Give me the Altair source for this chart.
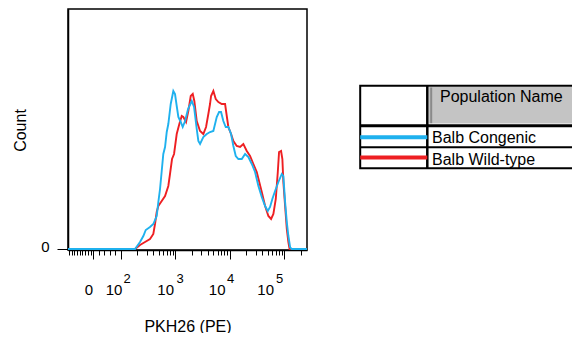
import altair as alt
import numpy as np
import pandas as pd

# ---------------- data ----------------
# x: log10 of PKH26 (PE) intensity, y: events (arbitrary count units)
blue_log_pe = [2.264, 2.356, 2.417, 2.461, 2.539, 2.600, 2.662, 2.692, 2.723, 2.754,
               2.783, 2.815, 2.846, 2.875, 2.919, 2.967, 2.998, 3.029, 3.059, 3.103,
               3.139, 3.182, 3.237, 3.305, 3.347, 3.396, 3.426, 3.457, 3.517, 3.580,
               3.640, 3.701, 3.763, 3.806, 3.842, 3.884, 3.928, 3.976, 4.026, 4.068,
               4.112, 4.160, 4.222, 4.283, 4.343, 4.406, 4.466, 4.527, 4.589, 4.650,
               4.699, 4.741, 4.783, 4.833, 4.894, 4.956, 4.985, 5.017, 5.048, 5.077,
               5.108, 5.136]
blue_count = [0, 7, 13, 19, 22, 25, 33, 47, 60, 78,
              95, 102, 117, 125, 145, 158, 155, 143, 132, 127,
              122, 128, 140, 148, 142, 120, 108, 105, 112, 115,
              117, 118, 132, 137, 137, 128, 122, 122, 115, 103,
              93, 90, 90, 95, 92, 85, 77, 63, 52, 43,
              38, 42, 50, 58, 67, 75, 73, 47, 27, 13,
              2, 0]

red_log_pe = [2.264, 2.356, 2.448, 2.539, 2.600, 2.631, 2.662, 2.692, 2.754, 2.815,
              2.875, 2.906, 2.943, 2.980, 3.029, 3.077, 3.121, 3.150, 3.200, 3.242,
              3.286, 3.323, 3.352, 3.396, 3.457, 3.517, 3.567, 3.609, 3.640, 3.659,
              3.701, 3.745, 3.793, 3.855, 3.916, 3.947, 3.976, 4.026, 4.068, 4.130,
              4.191, 4.251, 4.314, 4.374, 4.435, 4.497, 4.589, 4.650, 4.710, 4.760,
              4.802, 4.846, 4.883, 4.906, 4.943, 4.967, 4.985, 5.017, 5.048, 5.077,
              5.099]
red_count = [0, 4, 7, 10, 15, 25, 37, 43, 48, 53,
             63, 75, 90, 95, 115, 125, 133, 132, 127, 138,
             153, 155, 148, 128, 118, 115, 122, 135, 145, 153,
             158, 150, 147, 145, 145, 133, 122, 115, 108, 103,
             102, 105, 98, 93, 85, 77, 57, 43, 33, 30,
             35, 50, 77, 97, 98, 90, 67, 43, 20, 7,
             0]

series_names = ["Balb Congenic", "Balb Wild-type"]
series_colors = ["#1fb1ee", "#ee1f22"]

PE_MIN, PE_MAX = -93, 262144
major_ticks = [0, 100, 1000, 10000, 100000]
minor_ticks = (list(range(-90, 0, 10)) + [20, 40, 60, 80]
               + [k * 10 ** e for e in (2, 3, 4) for k in range(2, 10)] + [200000])
label_ticks = [0, 100, 1000, 10000, 100000]
sup_ticks = [100, 1000, 10000, 100000]

FONT = "Liberation Sans"


def display(v):
    """Biexponential-like display: log10 above 100, linear below."""
    v = float(v)
    return float(np.log10(v)) if v >= 100 else 2.0 + (v - 100.0) / 200.0


x_lo, x_hi = display(PE_MIN), display(PE_MAX)


def series_df(logs, counts):
    return pd.DataFrame({"pe": [x_lo] + list(logs) + [x_hi],
                         "events": [0] + list(counts) + [0]})


blue_df = series_df(blue_log_pe, blue_count)
red_df = series_df(red_log_pe, red_count)

W, H = 239, 241
xscale = alt.Scale(domain=[x_lo, x_hi], nice=False, zero=False)
yscale = alt.Scale(domain=[-1, 240], nice=False, zero=False)

common_x = dict(orient="bottom", grid=False, labelFlush=False, labelOverlap=False)

axis_major = alt.Axis(values=[display(v) for v in major_ticks], tickSize=9, tickColor="black",
                      tickWidth=1, domain=True, domainColor="black", domainWidth=1.5,
                      labels=False, title="PKH26 (PE)", titleX=W / 2, titleY=81,
                      titleBaseline="alphabetic", titleAlign="center", titleFontSize=16,
                      titleFontWeight="normal", titleColor="black", titleFont=FONT, **common_x)
axis_minor = alt.Axis(values=[display(v) for v in minor_ticks], tickSize=5, tickColor="black",
                      tickWidth=1, domain=False, labels=False, title=None, **common_x)
axis_tens = alt.Axis(values=[display(v) for v in label_ticks], ticks=False, domain=False,
                     labelExpr="datum.value < 1.9 ? '0' : '10'",
                     labelOffset={"expr": "datum.value < 1.9 ? -5 : datum.value < 2.5 ? -7 : "
                                          "datum.value < 3.5 ? -10 : datum.value < 4.5 ? -13 : -19"},
                     labelPadding=44.5, labelBaseline="alphabetic", labelFontSize=15,
                     labelFont=FONT, labelColor="black", title=None, **common_x)
axis_sup = alt.Axis(values=[display(v) for v in sup_ticks], ticks=False, domain=False,
                    labelExpr="'' + round(datum.value)",
                    labelOffset={"expr": "datum.value < 2.5 ? 6 : datum.value < 3.5 ? 4.5 : "
                                         "datum.value < 4.5 ? 0.5 : -5"},
                    labelPadding=32.5, labelBaseline="alphabetic", labelFontSize=13,
                    labelFont=FONT, labelColor="black", title=None, **common_x)

axis_y = alt.Axis(orient="left", values=[0], tickSize=11, tickColor="black", tickWidth=1,
                  domainColor="black", domainWidth=1.5, grid=False,
                  labelFontSize=15, labelFont=FONT, labelColor="black", labelPadding=8,
                  labelOffset=-3, labelBaseline="middle",
                  title="Count", titleX=-43, titleY=121, titleAngle=270,
                  titleBaseline="alphabetic", titleAlign="center", titleFontSize=16,
                  titleFontWeight="normal", titleColor="black", titleFont=FONT)

red_layer = alt.Chart(red_df).mark_line(color=series_colors[1], strokeWidth=1.9).encode(
    x=alt.X("pe:Q", scale=xscale, axis=axis_major),
    y=alt.Y("events:Q", scale=yscale, axis=axis_y),
)
blue_layer = alt.Chart(blue_df).mark_line(color=series_colors[0], strokeWidth=1.9).encode(
    x=alt.X("pe:Q", scale=xscale, axis=axis_minor),
    y=alt.Y("events:Q", scale=yscale, axis=None),
)
tens_layer = alt.Chart(blue_df).mark_line(strokeOpacity=0).encode(
    x=alt.X("pe:Q", scale=xscale, axis=axis_tens),
    y=alt.Y("events:Q", scale=yscale, axis=None),
)
sup_layer = alt.Chart(blue_df).mark_line(strokeOpacity=0).encode(
    x=alt.X("pe:Q", scale=xscale, axis=axis_sup),
    y=alt.Y("events:Q", scale=yscale, axis=None),
)

# ---------------- legend table (page coordinates -> plot coordinates) -------------
OX, OY = 68, 9
one = pd.DataFrame({"k": [0]})


def px(x):
    return x - OX


def py(y):
    return y - OY


def rect(x, x2, y, y2, fill, stroke=None, sw=0):
    kw = dict(fill=fill)
    if stroke:
        kw.update(stroke=stroke, strokeWidth=sw)
    return alt.Chart(one).mark_rect(**kw).encode(
        x=alt.value(px(x)), x2=alt.value(px(x2)), y=alt.value(py(y)), y2=alt.value(py(y2)))


def hrule(x, x2, y, color="black", sw=2):
    return alt.Chart(one).mark_rule(color=color, strokeWidth=sw).encode(
        x=alt.value(px(x)), x2=alt.value(px(x2)), y=alt.value(py(y)))


def vrule(x, y, y2, color="black", sw=2):
    return alt.Chart(one).mark_rule(color=color, strokeWidth=sw).encode(
        x=alt.value(px(x)), y=alt.value(py(y)), y2=alt.value(py(y2)))


def label(txt, x, y):
    return alt.Chart(one).mark_text(text=txt, align="left", baseline="alphabetic",
                                    font=FONT, fontSize=16, color="black").encode(
        x=alt.value(px(x)), y=alt.value(py(y)))


TL, TT, TB, TR = 360.2, 85.8, 168.3, 640
COL, HDR, ROW = 427.3, 125.8, 147.3

table = [
    rect(TL, TR, TT, TB, fill="white", stroke="black", sw=2),
    rect(428.7, TR, 86.9, 123.4, fill="#c4c4c4"),
    vrule(431.2, 87.5, 123.2, color="#8a8a8a", sw=2),
    vrule(COL, TT, TB, sw=2.5),
    hrule(TL, TR, HDR, sw=3),
    hrule(TL, TR, ROW, sw=2),
    label("Population Name", 440, 101.5),
]
row_line_y = [137.2, 157.5]
row_text_y = [142.5, 164.5]
for name, color, ly, ty in zip(series_names, series_colors, row_line_y, row_text_y):
    table.append(hrule(TL, COL, ly, color=color, sw=4))
    table.append(label(name, 432, ty))

chart = alt.layer(red_layer, blue_layer, tens_layer, sup_layer, *table).resolve_axis(
    x="independent", y="independent"
).properties(
    width=W, height=H,
    padding={"left": 60, "top": 1, "right": 265, "bottom": 83},
    autosize=alt.AutoSizeParams(type="none"),
).configure_view(stroke="black", strokeWidth=1.5).configure_axis(
    labelFont=FONT, titleFont=FONT
)

chart.save("out.html", embed_options={"renderer": "svg", "actions": False})
